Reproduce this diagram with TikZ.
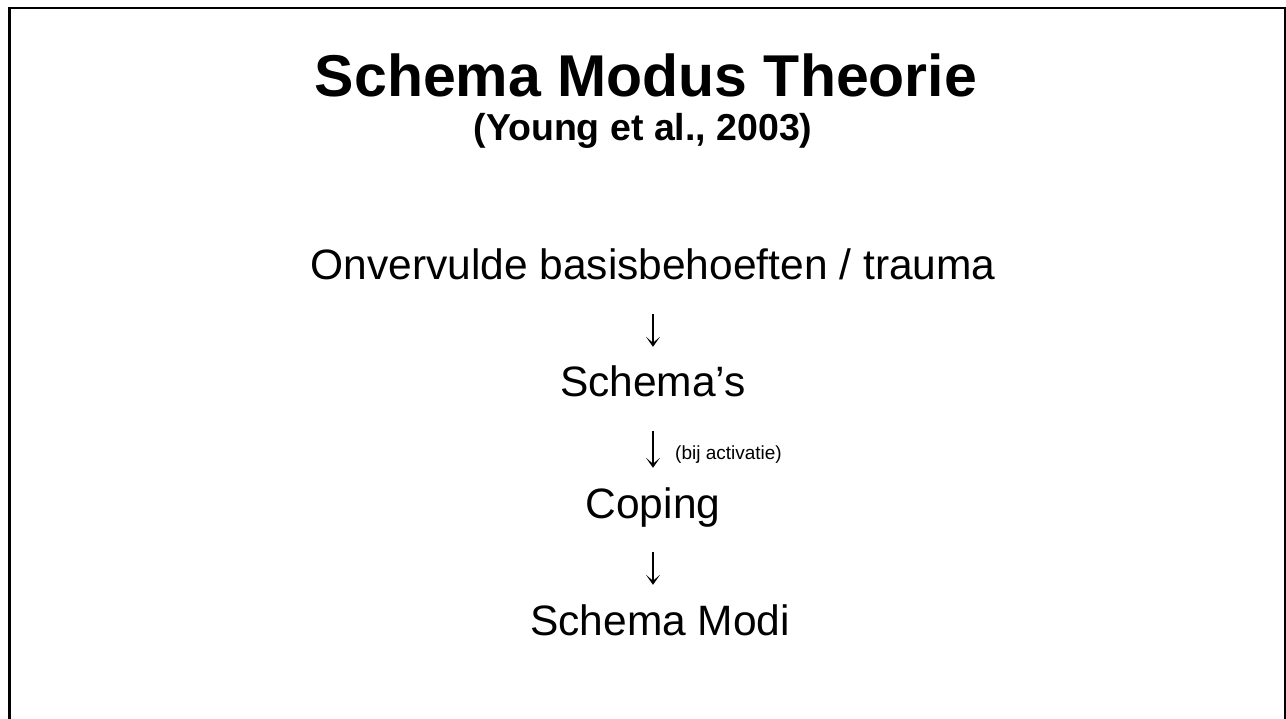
\documentclass[tikz,border=0pt]{standalone}
\usepackage{fontspec}
\setmainfont{Liberation Sans}
\usetikzlibrary{arrows.meta}

\tikzset{
  stap/.style={inner sep=0pt, anchor=base, text height=30pt, text depth=0pt,
    font=\fontsize{42.5}{50}\selectfont},
  pijl/.style={draw, line width=1.8pt, -{Stealth[length=10pt,width=14pt,inset=6pt]},
    shorten <=34pt, shorten >=20pt}
}

\begin{document}
\begin{tikzpicture}[x=1pt,y=-1pt]
\useasboundingbox (0,0) rectangle (1286,719);
\draw[line width=2.5pt] (9.5,730) -- (9.5,8) -- (1285,8) -- (1285,730);

\node[inner sep=0pt, anchor=base, font=\bfseries\fontsize{59}{70}\selectfont] (titel) at (646,96.5) {Schema Modus Theorie};
\node[inner sep=0pt, anchor=base, font=\bfseries\fontsize{37.5}{45}\selectfont] (bron) at (643,141) {(Young et al., 2003)};

\node[stap] (1) at (653,280) {Onvervulde basisbehoeften / trauma};
\node[stap] (2) at (653,397) {Schema’s};
\node[stap] (3) at (653,518) {Coping};
\node[stap, anchor=base west] (4) at (530,635) {Schema Modi};
\node[inner sep=0pt, anchor=base west, font=\fontsize{19}{22}\selectfont] (bij) at (675,460) {(bij activatie)};

\path[pijl] (1) -- (2);
\path[pijl] (2) -- (3);
\path[pijl] (3.south) -- (3.south |- 4.north);
\end{tikzpicture}
\end{document}
